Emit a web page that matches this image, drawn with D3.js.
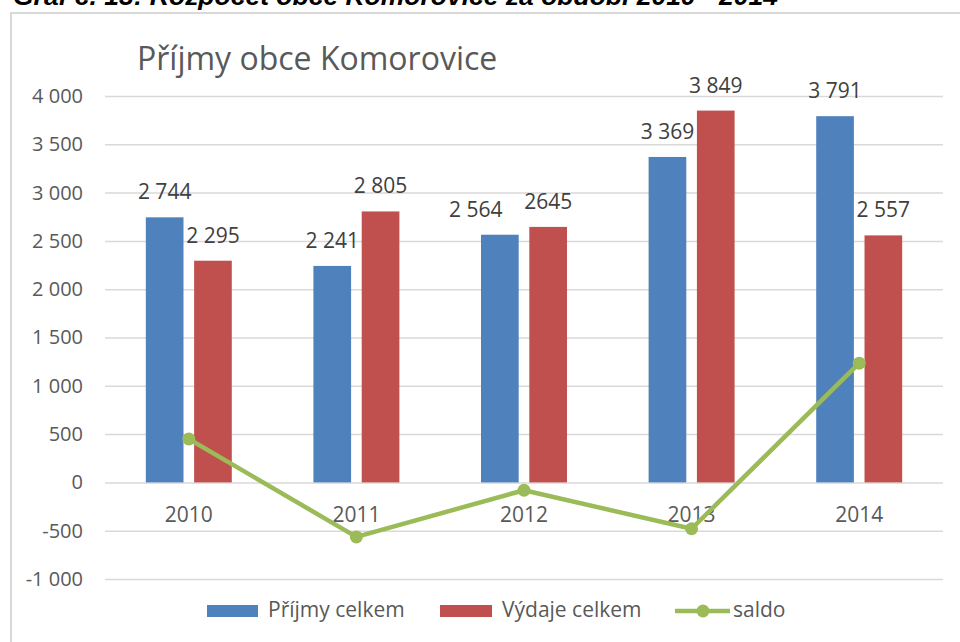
<!DOCTYPE html>
<html>
<head>
<meta charset="utf-8">
<script src="https://cdn.jsdelivr.net/npm/d3@7/dist/d3.min.js"></script>
<style>
  body { margin: 0; background: #fff; }
  svg { display: block; }
  .num { font-family: "Open Sans", sans-serif; }
</style>
</head>
<body>
<svg id="chart" width="960" height="642"></svg>
<script>
// data
var years = ["2010", "2011", "2012", "2013", "2014"];
var prijmy = [2744, 2241, 2564, 3369, 3791];
var vydaje = [2295, 2805, 2645, 3849, 2557];
var saldo = [449, -564, -81, -480, 1234];
var prijmyLabels = ["2 744", "2 241", "2 564", "3 369", "3 791"];
var vydajeLabels = ["2 295", "2 805", "2645", "3 849", "2 557"];
var seriesNames = ["Příjmy celkem", "Výdaje celkem", "saldo"];
var colours = ["#4f81bd", "#c0504d", "#9bbb59"];

var svg = d3.select("#chart");

// plot area (window.top is reserved, so no "top" here)
var pLeft = 105, pRight = 943, pTop = 96, pBottom = 579;

var loc = d3.formatLocale({decimal: ",", thousands: " ", grouping: [3], currency: ["", ""], minus: "-"});
var fmt = loc.format(",d");

var x0 = d3.scaleBand().domain(years).range([pLeft, pRight]).paddingInner(0.487).paddingOuter(0.2435);
var x1 = d3.scaleBand().domain([0, 1]).range([0, x0.bandwidth()]).paddingInner(0.22);
var y = d3.scaleLinear().domain([-1000, 4000]).range([pBottom, pTop]);

// caption cut off at the top
svg.append("text").attr("x", 13).attr("y", 5)
  .style("font-family", "Liberation Sans, Arial, sans-serif")
  .style("font-weight", "bold").style("font-style", "italic")
  .style("font-size", "25px").attr("fill", "#000")
  .attr("textLength", 765).attr("lengthAdjust", "spacingAndGlyphs")
  .text("Graf č. 13: Rozpočet obce Komorovice za období 2010 - 2014");

// frame
svg.append("rect").attr("x", 11).attr("y", 13).attr("width", 1000).attr("height", 700)
  .attr("fill", "none").attr("stroke", "#d9d9d9").attr("stroke-width", 2);

// title
svg.append("text").attr("x", 137).attr("y", 70)
  .attr("class", "num").style("font-size", "32px").attr("fill", "#595959")
  .text("Příjmy obce Komorovice");

// gridlines + y axis
var yAxis = svg.append("g").attr("transform", "translate(" + pLeft + ",0)")
  .call(d3.axisLeft(y).ticks(10).tickFormat(fmt).tickSize(-(pRight - pLeft)).tickPadding(22));
yAxis.select(".domain").remove();
yAxis.selectAll("line").attr("stroke", "#d9d9d9").attr("stroke-width", 1.5);
yAxis.selectAll("text").attr("class", "num").style("font-size", "20px").attr("fill", "#595959");

// bars
var g = svg.append("g");
years.forEach(function(yr, i) {
  var vals = [prijmy[i], vydaje[i]];
  var labs = [prijmyLabels[i], vydajeLabels[i]];
  vals.forEach(function(v, j) {
    var bx = x0(yr) + x1(j);
    g.append("rect").attr("x", bx).attr("y", y(v))
      .attr("width", x1.bandwidth()).attr("height", y(0) - y(v))
      .attr("fill", colours[j]);
    // the 2012 income label was dragged left in the original so it doesn't hit 2645
    var dx = (yr == "2012" && j == 0) ? -24 : 0;
    g.append("text").attr("x", bx + x1.bandwidth() / 2 + dx).attr("y", y(v) - 18)
      .attr("text-anchor", "middle").attr("class", "num")
      .style("font-size", "21px").attr("fill", "#404040").text(labs[j]);
  });
});

// x labels
svg.append("g").selectAll("text").data(years).join("text")
  .attr("x", function(d) { return x0(d) + x0.bandwidth() / 2; })
  .attr("y", y(0) + 40).attr("text-anchor", "middle").attr("class", "num")
  .style("font-size", "21px").attr("fill", "#595959").text(function(d) { return d; });

// saldo line
var line = d3.line()
  .x(function(d, i) { return x0(years[i]) + x0.bandwidth() / 2; })
  .y(function(d) { return y(d); });
svg.append("path").datum(saldo).attr("d", line)
  .attr("fill", "none").attr("stroke", colours[2]).attr("stroke-width", 4.5).attr("stroke-linejoin", "round");
svg.append("g").selectAll("circle").data(saldo).join("circle")
  .attr("cx", function(d, i) { return x0(years[i]) + x0.bandwidth() / 2; })
  .attr("cy", function(d) { return y(d); })
  .attr("r", 6.5).attr("fill", colours[2]);

// legend
var lg = svg.append("g").attr("transform", "translate(0,611)");
lg.append("rect").attr("x", 207).attr("y", -6).attr("width", 51).attr("height", 12).attr("fill", colours[0]);
lg.append("text").attr("x", 268).attr("y", 6).attr("class", "num").style("font-size", "21px").attr("fill", "#595959").text(seriesNames[0]);
lg.append("rect").attr("x", 440).attr("y", -6).attr("width", 52).attr("height", 12).attr("fill", colours[1]);
lg.append("text").attr("x", 502).attr("y", 6).attr("class", "num").style("font-size", "21px").attr("fill", "#595959").text(seriesNames[1]);
lg.append("line").attr("x1", 675).attr("x2", 730).attr("y1", 0).attr("y2", 0).attr("stroke", colours[2]).attr("stroke-width", 4.5);
lg.append("circle").attr("cx", 703).attr("cy", 0).attr("r", 6.5).attr("fill", colours[2]);
lg.append("text").attr("x", 733).attr("y", 6).attr("class", "num").style("font-size", "21px").attr("fill", "#595959").text(seriesNames[2]);
</script>
</body>
</html>
